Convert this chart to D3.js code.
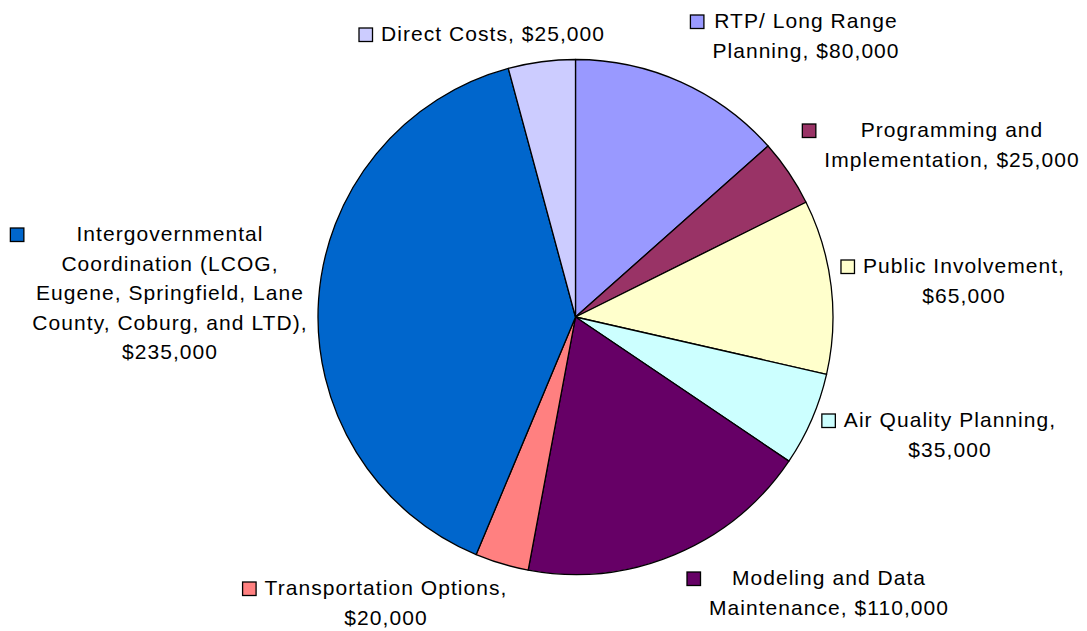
<!DOCTYPE html>
<html>
<head>
<meta charset="utf-8">
<script src="https://cdn.jsdelivr.net/npm/d3@7"></script>
<style>
  body { margin: 0; background: #fff; }
  svg text { font-family: "Liberation Sans", Arial, sans-serif; font-size: 21px; letter-spacing: 1.05px; fill: #000; }
</style>
</head>
<body>
<svg id="chart" width="1087" height="631"></svg>
<script>
// budget categories, clockwise from 12 o'clock
var categories = [
  "RTP/ Long Range Planning",
  "Programming and Implementation",
  "Public Involvement",
  "Air Quality Planning",
  "Modeling and Data Maintenance",
  "Transportation Options",
  "Intergovernmental Coordination (LCOG, Eugene, Springfield, Lane County, Coburg, and LTD)",
  "Direct Costs"
]
var values = [80000, 25000, 65000, 35000, 110000, 20000, 235000, 25000]
var colors = ["#9999ff", "#993366", "#ffffcc", "#ccffff", "#660066", "#ff8080", "#0066cc", "#ccccff"]

// label wrapping as in the original (line breaks only)
var labelLines = [
  ["RTP/ Long Range", "Planning, $80,000"],
  ["Programming and", "Implementation, $25,000"],
  ["Public Involvement,", "$65,000"],
  ["Air Quality Planning,", "$35,000"],
  ["Modeling and Data", "Maintenance, $110,000"],
  ["Transportation Options,", "$20,000"],
  ["Intergovernmental", "Coordination (LCOG,", "Eugene, Springfield, Lane", "County, Coburg, and LTD),", "$235,000"],
  ["Direct Costs, $25,000"]
]
// label block centre x and first baseline y
var labelPos = [
  [806, 28], [952, 137], [964, 273], [950, 427],
  [829, 585], [386, 595], [170, 241], [493, 41]
]

var svg = d3.select("#chart")
var cx = 575.5, cy = 317, r = 257.5
var lineH = 29.5

var data = categories.map(function(c, i){ return { name: c, value: values[i], color: colors[i], i: i } })

var pie = d3.pie().sort(null).value(function(d){ return d.value })
var arc = d3.arc().innerRadius(0).outerRadius(r)

var g = svg.append("g").attr("transform", "translate(" + cx + "," + cy + ")")

g.selectAll("path")
  .data(pie(data))
  .enter().append("path")
  .attr("d", arc)
  .attr("fill", function(d){ return d.data.color })
  .attr("stroke", "#000")
  .attr("stroke-width", 1.3)
  .attr("stroke-linejoin", "round")

// labels with legend key
data.forEach(function(d){
  var pos = labelPos[d.i]
  var lg = svg.append("g")
  var t = lg.append("text").attr("text-anchor", "middle")
  labelLines[d.i].forEach(function(line, k){
    t.append("tspan").attr("x", pos[0]).attr("y", pos[1] + k * lineH).text(line)
  })
  var bb = t.node().getBBox()
  lg.append("rect")
    .attr("x", bb.x - 22)
    .attr("y", pos[1] - 13)
    .attr("width", 13.5)
    .attr("height", 13.5)
    .attr("fill", d.color)
    .attr("stroke", "#000")
    .attr("stroke-width", 1.3)
})
</script>
</body>
</html>
